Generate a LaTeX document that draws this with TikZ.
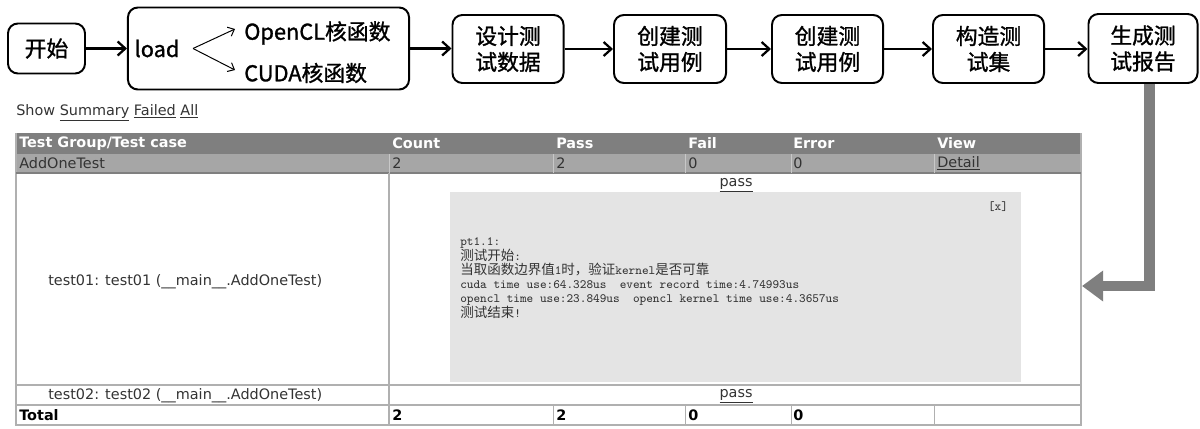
\documentclass[tikz,border=0pt]{standalone}
\usepackage{fontspec}
\setmainfont{DejaVu Sans}
\newfontfamily\cjk{Noto Sans CJK SC}
\newfontfamily\cjkbold[FakeBold=1.2]{Noto Sans CJK SC}
\usetikzlibrary{arrows.meta}
\definecolor{headgray}{HTML}{7F7F7F}
\definecolor{rowgray}{HTML}{A6A6A6}
\definecolor{boxgray}{HTML}{E4E4E4}
\definecolor{linegray}{HTML}{B0B0B0}
\definecolor{txtgray}{HTML}{333333}
\newcommand\logcjk[1]{{\cjk\fontsize{9.6}{9.8}\selectfont #1}}

\begin{document}
\begin{tikzpicture}[x=0.025cm,y=-0.025cm,
		flowbox/.style={draw,line width=1.4pt,rounded corners=7pt,align=center,inner sep=0pt,
			font=\cjkbold\fontsize{15.5}{18.5}\selectfont},
		flowtxt/.style={inner sep=0pt,font=\cjkbold\fontsize{15.5}{18.5}\selectfont},
		flowarrow/.style={line width=1.6pt,-{Straight Barb[length=5.5pt,width=10pt]}},
		branch/.style={line width=0.7pt,-{Straight Barb[length=4pt,width=7pt]}},
		bigarrow/.style={draw=headgray,line width=7.8pt,line join=miter,-{Triangle[length=15pt,width=21pt]}},
		cell/.style={anchor=west,inner sep=0pt,text=txtgray,font=\fontsize{10.25}{12}\selectfont},
		headcell/.style={cell,text=white,font=\bfseries\fontsize{10.25}{12}\selectfont},
		totcell/.style={cell,text=black,font=\bfseries\fontsize{10.25}{12}\selectfont}]
		\useasboundingbox (0,0) rectangle (1200,428);
		\node[flowbox,minimum width=1.925cm,minimum height=1.25cm] (start) at (46.5,48.5) {开始};
		\node[flowbox,minimum width=7.025cm,minimum height=2.05cm] (load) at (268.5,48.5) {};
		\node[flowbox,minimum width=2.775cm,minimum height=1.7cm] (design) at (508,49) {设计测\\试数据};
		\node[flowbox,minimum width=2.8cm,minimum height=1.7cm] (case1) at (670,49) {创建测\\试用例};
		\node[flowbox,minimum width=2.775cm,minimum height=1.7cm] (case2) at (827.5,49) {创建测\\试用例};
		\node[flowbox,minimum width=2.775cm,minimum height=1.7cm] (suite) at (988.5,49) {构造测\\试集};
		\node[flowbox,minimum width=2.725cm,minimum height=1.725cm] (report) at (1143,48.5) {生成测\\试报告};
		\node[flowtxt] (loadtxt) at (157,48.5) {load};
		\node[flowtxt,anchor=west] (opencl) at (244,33) {OpenCL核函数};
		\node[flowtxt,anchor=west] (cuda) at (244,73) {CUDA核函数};
		\coordinate (fork) at (193,48.5);
		\coordinate (tipup) at (235,29);
		\coordinate (tipdn) at (235,70);
		\draw[branch] (fork) -- (tipup);
		\draw[branch] (fork) -- (tipdn);
		\draw[flowarrow] (start) -- (load);
		\draw[flowarrow] (load.east) -- (load.east -| design.west);
		\draw[flowarrow] (design) -- (case1);
		\draw[flowarrow] (case1) -- (case2);
		\draw[flowarrow] (case2) -- (suite);
		\draw[flowarrow] (suite.east) -- (suite.east -| report.west);
		\node[cell] (show) at (16,113) {Show \underline{Summary} \underline{Failed} \underline{All}};
		\fill[headgray] (16,133) rectangle (1081,154);
		\fill[rowgray] (16,154) rectangle (1081,173);
		\fill[boxgray] (450,192) rectangle (1021,382);
		\draw[linegray,line width=0.8pt] (16,133) -- (16,425) -- (1081,425) -- (1081,133);
		\draw[headgray,line width=0.8pt] (16,173) -- (1081,173);
		\draw[linegray,line width=1.2pt] (16,385) -- (1081,385) (16,405) -- (1081,405);
		\draw[linegray,line width=0.8pt] (389,173) -- (389,425);
		\draw[linegray!70,line width=0.6pt] (389,154) -- (389,173) (553,154) -- (553,173) (685,154) -- (685,173)
			(791,154) -- (791,173) (934,154) -- (934,173);
		\draw[linegray,line width=0.6pt] (553,405) -- (553,425) (685,405) -- (685,425) (791,405) -- (791,425)
			(934,405) -- (934,425);
		\node[headcell] (hgroup) at (19,143.5) {Test Group/Test case};
		\node[headcell] (hcount) at (392,143.5) {Count};
		\node[headcell] (hpass) at (556,143.5) {Pass};
		\node[headcell] (hfail) at (688,143.5) {Fail};
		\node[headcell] (herror) at (793,143.5) {Error};
		\node[headcell] (hview) at (937,143.5) {View};
		\node[cell] (grp) at (19,163.5) {AddOneTest};
		\node[cell] (grpcount) at (392,163.5) {2};
		\node[cell] (grppass) at (556,163.5) {2};
		\node[cell] (grpfail) at (688,163.5) {0};
		\node[cell] (grperror) at (793,163.5) {0};
		\node[cell] (grpview) at (937,163.5) {\underline{Detail}};
		\node[cell,anchor=center] (pass1) at (736,185) {\underline{pass}};
		\node[cell,anchor=center,font=\ttfamily\fontsize{9}{9.8}\selectfont] (close) at (998,207) {[x]};
		\node[cell,anchor=north west,align=left,font=\ttfamily\fontsize{9}{9.8}\selectfont] (log) at (460,237) {pt1.1:\\
			\logcjk{测试开始}:\\
			\logcjk{当取函数边界值}1\logcjk{时，验证}kernel\logcjk{是否可靠}\\
			cuda time use:64.328us\ \ event record time:4.74993us\\
			opencl time use:23.849us\ \ opencl kernel time use:4.3657us\\
			\logcjk{测试结束}!};
		\node[cell] (t1) at (48,282) {test01: test01 (\_\_main\_\_.AddOneTest)};
		\node[cell] (t2) at (48,396) {test02: test02 (\_\_main\_\_.AddOneTest)};
		\node[cell,anchor=center] (pass2) at (736,396) {\underline{pass}};
		\node[totcell] (total) at (19,415.5) {Total};
		\node[totcell] (totcount) at (392,415.5) {2};
		\node[totcell] (totpass) at (556,415.5) {2};
		\node[totcell] (totfail) at (688,415.5) {0};
		\node[totcell] (toterror) at (793,415.5) {0};
		\coordinate (turn) at (1149,286);
		\coordinate (tabedge) at (1082,286);
		\draw[bigarrow] (report.south -| turn) -- (turn) -- (tabedge);
\end{tikzpicture}
\end{document}
